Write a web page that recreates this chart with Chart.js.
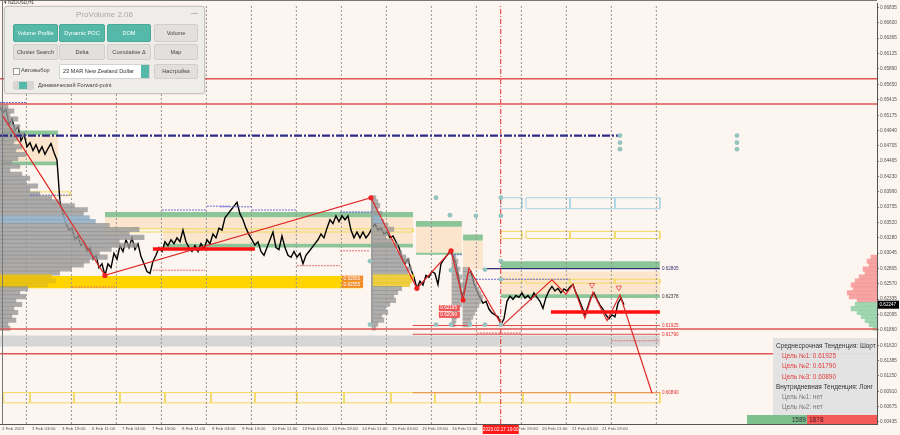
<!DOCTYPE html>
<html>
<head>
<meta charset="utf-8">
<script src="https://cdn.jsdelivr.net/npm/chart.js@4.4.1/dist/chart.umd.min.js"></script>
<style>
  html, body { margin: 0; padding: 0; background: #fdf5ef; }
  body { width: 900px; height: 435px; position: relative; overflow: hidden; font-family: "Liberation Sans", Arial, sans-serif; }
  #c { position: absolute; left: 0; top: 0; }
  .edge-top { position: absolute; left: 0; top: 0; width: 877px; height: 1px; background: #777; }
  .edge-left { position: absolute; left: 2px; top: 0; width: 1px; height: 424px; background: #777; }
  .symbol { position: absolute; left: 4px; top: 0; font-size: 4.5px; color: #333; }

  #panel { position: absolute; left: 4px; top: 6px; width: 199px; height: 86px; background: #efedea; border: 1px solid #c8c5c1; border-radius: 3px; box-shadow: 0 0 2px rgba(0,0,0,.18); }
  #panel .ttl { position: absolute; left: 0; top: 3px; width: 100%; text-align: center; font-size: 8px; color: #aaa7a3; }
  #panel .min { position: absolute; right: 6px; top: 2px; font-size: 7px; color: #8a8a8a; }
  .btn { position: absolute; box-sizing: border-box; border-radius: 2px; background: #e2e0dd; border: 1px solid #d2cfcb; font-size: 5.6px; color: #444; text-align: center; }
  .btn.on { background: #55b8a8; border-color: #4aa898; color: #fff; }
  .r1 { top: 17px; height: 18px; line-height: 16px; }
  .r2 { top: 37px; height: 16px; line-height: 15px; }
  .chk { position: absolute; left: 8px; top: 61px; width: 5px; height: 5px; border: 1px solid #999; background: #fff; }
  .chk-t { position: absolute; left: 16px; top: 60px; font-size: 5.6px; color: #444; }
  .combo { position: absolute; left: 54px; top: 57px; width: 91px; height: 15px; background: #fff; border: 1px solid #d6d3cf; box-sizing: border-box; font-size: 5.6px; line-height: 13px; padding-left: 3px; color: #333; }
  .combo i { position: absolute; right: 0; top: 0; width: 8px; height: 13px; background: #55b8a8; }
  .set { left: 149px; top: 57px; width: 44px; height: 15px; line-height: 13px; }
  .tgl { position: absolute; left: 8px; top: 74px; width: 21px; height: 9px; background: #d8d6d3; border-radius: 2px; }
  .tgl i { position: absolute; left: 6px; top: 1px; width: 8px; height: 7px; background: #55b8a8; }
  .tgl-t { position: absolute; left: 33px; top: 75px; font-size: 5.6px; color: #444; }

  #info { position: absolute; left: 773px; top: 338px; width: 104px; height: 77px; background: rgba(226,226,226,0.96); box-sizing: border-box; padding: 3px 0 0 3px; font-size: 6.4px; line-height: 10.2px; color: #333; }
  #info .t { padding-left: 6px; color: #e23b3b; }
  #info .n { padding-left: 6px; color: #777; }
  #ratio { position: absolute; left: 747px; top: 415px; width: 130px; height: 9px; font-size: 6.4px; line-height: 9px; }
  #ratio .g { position: absolute; left: 0; top: 0; width: 60px; height: 9px; background: #7cc08d; text-align: right; color: #333; box-sizing: border-box; padding-right: 1px; }
  #ratio .r { position: absolute; left: 60px; top: 0; width: 70px; height: 9px; background: #f25a5a; color: #5a1010; box-sizing: border-box; padding-left: 2px; }
</style>
</head>
<body>
<canvas id="c" width="900" height="435"></canvas>
<div class="edge-top"></div>
<div class="edge-left"></div>
<div class="symbol">▾ NZDUSD,H1</div>

<div id="panel">
  <div class="ttl">ProVolume 2.06</div>
  <div class="min">—</div>
  <div class="btn on r1" style="left:8px;width:45px">Volume Profile</div>
  <div class="btn on r1" style="left:54px;width:46px">Dynamic POC</div>
  <div class="btn on r1" style="left:102px;width:44px">DOM</div>
  <div class="btn r1" style="left:149px;width:44px">Volume</div>
  <div class="btn r2" style="left:8px;width:45px">Cluster Search</div>
  <div class="btn r2" style="left:54px;width:46px">Delta</div>
  <div class="btn r2" style="left:102px;width:44px">Cumulative Δ</div>
  <div class="btn r2" style="left:149px;width:44px">Map</div>
  <div class="chk"></div><div class="chk-t">Автовыбор</div>
  <div class="combo">23 MAR New Zealand Dollar<i></i></div>
  <div class="btn set">Настройки</div>
  <div class="tgl"><i></i></div><div class="tgl-t">Динамический Forward-point</div>
</div>

<div id="info">
  <div>Среднесрочная Тенденция: Шорт</div>
  <div class="t">Цель №1: 0.61925</div>
  <div class="t">Цель №2: 0.61790</div>
  <div class="t">Цель №3: 0.60890</div>
  <div>Внутридневная Тенденция: Лонг</div>
  <div class="n">Цель №1: нет</div>
  <div class="n">Цель №2: нет</div>
</div>
<div id="ratio"><div class="g">1589</div><div class="r">1878</div></div>

<script>
// time axis: trading hours counted from 2 Feb 2023 11:00 (weekends skipped)
const timeLabels = ['2 Feb 2023', '3 Feb 03:00', '3 Feb 19:00', '6 Feb 11:00', '7 Feb 03:00', '7 Feb 19:00', '8 Feb 11:00',
    '9 Feb 03:00', '9 Feb 19:00', '10 Feb 11:00', '13 Feb 03:00', '13 Feb 19:00', '14 Feb 11:00', '15 Feb 03:00',
    '15 Feb 19:00', '16 Feb 11:00', '17 Feb 03:00', '17 Feb 19:00', '20 Feb 11:00', '21 Feb 03:00', '21 Feb 19:00'];
const timeTicks = [0, 16, 32, 48, 64, 80, 96, 112, 128, 144, 160, 176, 192, 208, 224, 240, 256, 272, 288, 304, 320];
const dayStarts = [13, 37, 61, 85, 109, 133, 157, 181, 205, 229, 253, 277, 301, 325, 349];
const xMin = -1.07;
const xMax = 466.7;

// price axis
const priceTicks = [0.66835, 0.66600, 0.66365, 0.66125, 0.65890, 0.65650, 0.65415, 0.65175, 0.64940, 0.64705,
    0.64465, 0.64230, 0.63990, 0.63755, 0.63520, 0.63280, 0.63045, 0.62805, 0.62570, 0.62335, 0.62095, 0.61860,
    0.61620, 0.61385, 0.61150, 0.60910, 0.60675, 0.60435];
const yMin = 0.60404;
const yMax = 0.66896;

// closes, one every 1.6 h
const closeStartHour = -1.07;
const closeStepHours = 1.6;
const closes = [
    0.6530, 0.6521, 0.6527, 0.6503, 0.6512, 0.6494, 0.6500, 0.6478, 0.6488, 0.6469,
    0.6475, 0.6463, 0.6472, 0.6460, 0.6469, 0.6457, 0.6466, 0.6474, 0.6460, 0.6448,
    0.6383, 0.6365, 0.6350, 0.6340, 0.6343, 0.6325, 0.6331, 0.6316, 0.6322, 0.6307,
    0.6313, 0.6295, 0.6301, 0.6282, 0.6288, 0.6270, 0.6288, 0.6282, 0.6304, 0.6295,
    0.6316, 0.6307, 0.6325, 0.6313, 0.6328, 0.6310, 0.6319, 0.6299, 0.6288, 0.6276,
    0.6273, 0.6292, 0.6301, 0.6313, 0.6307, 0.6322, 0.6316, 0.6325, 0.6319, 0.6328,
    0.6322, 0.6340, 0.6322, 0.6313, 0.6307, 0.6316, 0.6307, 0.6319, 0.6311, 0.6325,
    0.6319, 0.6334, 0.6328, 0.6343, 0.6340, 0.6359, 0.6365, 0.6371, 0.6377, 0.6383,
    0.6365, 0.6356, 0.6343, 0.6333, 0.6325, 0.6317, 0.6322, 0.6307, 0.6301, 0.6313,
    0.6325, 0.6337, 0.6313, 0.6310, 0.6331, 0.6313, 0.6301, 0.6298, 0.6307, 0.6298,
    0.6304, 0.6288, 0.6301, 0.6307, 0.6313, 0.6319, 0.6325, 0.6334, 0.6328, 0.6343,
    0.6356, 0.6350, 0.6362, 0.6353, 0.6362, 0.6356, 0.6362, 0.6340, 0.6328, 0.6337,
    0.6328, 0.6337, 0.6328, 0.6334, 0.6343, 0.6350, 0.6340, 0.6343, 0.6334, 0.6337,
    0.6328, 0.6331, 0.6322, 0.6313, 0.6298, 0.6288, 0.6295, 0.6279, 0.6267, 0.6250,
    0.6261, 0.6255, 0.6270, 0.6267, 0.6276, 0.6273, 0.6256, 0.6288, 0.6295, 0.6301,
    0.6307, 0.6301, 0.6288, 0.6264, 0.6236, 0.6252, 0.6273, 0.6276, 0.6258, 0.6246,
    0.6236, 0.6227, 0.6230, 0.6218, 0.6212, 0.6209, 0.6206, 0.6194, 0.6203, 0.6230,
    0.6238, 0.6233, 0.6239, 0.6236, 0.6243, 0.6235, 0.6239, 0.6233, 0.6243, 0.6236,
    0.6230, 0.6219, 0.6236, 0.6246, 0.6253, 0.6246, 0.6250, 0.6243, 0.6249, 0.6246,
    0.6252, 0.6256, 0.6243, 0.6233, 0.6221, 0.6209, 0.6222, 0.6236, 0.6243, 0.6233,
    0.6224, 0.6218, 0.6209, 0.6203, 0.6209, 0.6206, 0.6227, 0.6235, 0.62247
];

// zigzag swings
const zigzagHours = [0, 54.9, 196.8, 221.3, 239.5, 245.9, 249.1, 266.7, 293.3, 300.8, 304.5, 310.9, 315.2, 322.7, 329.6, 346.7];
const zigzagPrices = [0.6518, 0.6270, 0.6390, 0.6250, 0.6308, 0.6232, 0.6281, 0.6192, 0.6263, 0.6241, 0.6256, 0.6204, 0.6244, 0.6200, 0.6240, 0.6088];
const swingDotHours = [54.9, 196.8, 221.3, 239.5, 245.9];
const swingDotPrices = [0.6270, 0.6390, 0.6250, 0.6308, 0.6232];
const signalHours = [314.7, 329.0];
const signalPrices = [0.6255, 0.6251];

// forward points
const fwdHours = [231.5, 238.9, 252.8, 266.1, 266.1, 266.1, 257.6, 239.5, 266.1, 196.3, 196.3, 231.5, 239.5, 249.6, 257.6, 266.1, 329.6, 329.6, 329.6, 392, 392, 392];
const fwdPrices = [0.6390, 0.6363, 0.6362, 0.6362, 0.6390, 0.6292, 0.6279, 0.6278, 0.6264, 0.6292, 0.6194, 0.6194, 0.6194, 0.6194, 0.6194, 0.6194, 0.6486, 0.6475, 0.6465, 0.6486, 0.6475, 0.6465];

// levels
const fullWidthLevels = [0.6574, 0.6535, 0.6187, 0.6149];
const trendLevel = 0.6486;
const trendLevelEnd = 329.6;
const targetLevels = [0.61925, 0.61790];
const target3Level = 0.60890;
const targetFrom = 219;
const zoneEndHour = 350.9;
const navyLevel = 0.62805;
const navyFrom = 256.5;
// [fromHour, toHour, price]
const thickRedLevels = [[80.5, 134.9, 0.63107], [292.8, 350.9, 0.62135]];
const blueDashLevels = [[-1.07, 13.3, 0.6537], [14.9, 36.3, 0.6394], [85.3, 109.3, 0.6371], [109.3, 121.6, 0.6377],
    [116.3, 133.3, 0.6376], [133.3, 157.3, 0.6371], [180.3, 197.3, 0.6368], [239.5, 245.3, 0.6302], [252.8, 302.9, 0.6264]];
const redDashLevels = [[80.5, 108.3, 0.6278], [157.3, 180.3, 0.6285], [180.3, 196.3, 0.6308], [37.3, 60.3, 0.6252],
    [325, 350.9, 0.6169], [253.3, 277.3, 0.6181]];

// zones: [fromHour, toHour, upper, lower]
const greenZones = [[0, 29.9, 0.6494, 0.6487], [0, 29.9, 0.6446, 0.6440], [54.9, 219.2, 0.6368, 0.6360],
    [85.9, 219.2, 0.6319, 0.6313], [220.8, 245.3, 0.6354, 0.6345], [220.8, 245.3, 0.6305, 0.6302],
    [245.9, 256.5, 0.6333, 0.6324], [266.1, 350.9, 0.6292, 0.6281], [266.1, 350.9, 0.6241, 0.6235]];
const sandZones = [[0, 29.9, 0.6486, 0.6446], [54.9, 85.9, 0.6360, 0.6342], [85.9, 219.2, 0.6360, 0.6319],
    [220.8, 245.3, 0.6345, 0.6305], [245.9, 256.5, 0.6324, 0.6279], [266.1, 350.9, 0.6276, 0.6241]];
const goldZones = [[-1.07, 192, 0.6269, 0.6250]];
const grayZones = [[-1.07, 350.9, 0.6177, 0.6160]];
const blueBoxes = [[266.1, 277.3, 0.6390, 0.6373], [279.5, 302.9, 0.6390, 0.6373], [302.9, 326.9, 0.6390, 0.6373], [326.9, 350.9, 0.6390, 0.6373]];
const yellowBoxes = [[266.1, 277.3, 0.6338, 0.6327], [279.5, 302.9, 0.6338, 0.6327], [302.9, 326.9, 0.6338, 0.6327], [326.9, 350.9, 0.6338, 0.6327],
    [266.1, 277.3, 0.6264, 0.6258], [279.5, 302.9, 0.6264, 0.6258], [302.9, 326.9, 0.6264, 0.6258], [326.9, 350.9, 0.6264, 0.6258],
    [0.5, 36.3, 0.6399, 0.6393], [54.9, 219.2, 0.6342, 0.6337]];
const dailyBoxEdges = [0.9, 14.9, 38.4, 62.9, 86.9, 111.5, 134.9, 157.3, 182.4, 207.5, 230.9, 254.9, 277.9, 302.9, 326.9, 350.9];
const dailyBoxUpper = 0.6089;
const dailyBoxLower = 0.6073;

// volume profiles (volume per price bin)
const profileBinStep = 0.00061;
const profileHoursPerLot = 0.53;
const leftProfileTop = 0.6530;
const leftProfileVolumes = [8, 14, 10, 18, 12, 20, 16, 24, 18, 14, 22, 16, 26, 18, 12, 20, 10, 22, 30, 26,
    38, 30, 40, 52, 60, 75, 88, 84, 90, 96, 110, 140, 130, 145, 120, 138, 112, 100, 108, 90,
    84, 72, 60, 52, 56, 48, 28, 20, 26, 16, 22, 14, 18, 12, 16, 8, 10];
const midProfileStart = 197.3;
const midProfileTop = 0.6390;
const midProfileVolumes = [4, 6, 8, 6, 10, 8, 12, 16, 22, 18, 14, 20, 26, 24, 30, 34, 38, 32, 40, 36,
    42, 40, 38, 30, 26, 22, 24, 18, 14, 16, 10, 12, 6, 4];
const smallProfileStart = 240;
const smallProfileTop = 0.6298;
const smallProfileVolumes = [4, 6, 5, 8, 6, 10, 8, 12, 10, 9, 12, 8, 10, 7, 6, 5, 4, 3];
const thirdProfileStart = 245.9;
const thirdProfileTop = 0.6279;
const thirdProfileVolumes = [6, 8, 10, 12, 14, 16, 18, 20, 18, 16, 14, 12, 10, 8, 6];
const domProfileTop = 0.6298;
const domSplitPrice = 0.6230;
const domVolumes = [6, 10, 8, 14, 12, 18, 22, 26, 24, 30, 28, 20, 22, 26, 20, 16, 12, 8, 4];

// tags
const levelTagPrices = [0.62805, 0.62378, 0.61925, 0.61790, 0.60890];
const volumeTagHour = 181.4;
const volumeTagPrices = [0.62650, 0.62555];
const deltaTagHour = 233;
const deltaTagPrices = [0.62195, 0.62090];
const crossHour = 266;
const crossLabel = '2023.02.17 10:00';

const FONT = '"Liberation Sans", Arial, sans-serif';
const datasets = [];

function segments(list) {
    const pts = [];
    list.forEach(s => pts.push({x: s[0], y: s[2]}, {x: s[1], y: s[2]}, {x: s[1], y: null}));
    return pts;
}
function boxPath(list) {
    const pts = [];
    list.forEach(b => pts.push({x: b[0], y: b[2]}, {x: b[1], y: b[2]}, {x: b[1], y: b[3]},
        {x: b[0], y: b[3]}, {x: b[0], y: b[2]}, {x: b[0], y: null}));
    return pts;
}
function addLine(data, style, order) {
    datasets.push(Object.assign({type: 'line', data: data, pointRadius: 0, borderWidth: 1, fill: false,
        tension: 0, spanGaps: false, order: order}, style));
}
function addZones(list, color, order) {
    list.forEach(z => datasets.push({type: 'line', data: [{x: z[0], y: z[2]}, {x: z[1], y: z[2]}],
        fill: {value: z[3]}, backgroundColor: color, borderColor: 'rgba(0,0,0,0)', borderWidth: 0,
        pointRadius: 0, order: order}));
}
function addProfile(start, top, vols, growLeft, color, order) {
    const data = vols.map((v, i) => {
        const w = v * profileHoursPerLot;
        return {y: top - i * profileBinStep, x: growLeft ? [start - w, start] : [start, start + w]};
    });
    datasets.push({type: 'bar', indexAxis: 'y', data: data, grouped: false, barThickness: 4.4,
        borderWidth: 0, backgroundColor: color, order: order});
}

// zones
addZones(sandZones, '#fbe6cd', 20);
addZones(greenZones, '#8cc598', 19);
addZones(goldZones, '#ffd400', 18);
addZones(grayZones, '#d6d6d6', 18);
addLine(boxPath(blueBoxes), {borderColor: '#a9d3e6'}, 17);
addLine(boxPath(yellowBoxes), {borderColor: '#f2d964'}, 17);
const dailyBoxes = [];
for (let i = 0; i < dailyBoxEdges.length - 1; i++) {
    dailyBoxes.push([dailyBoxEdges[i], dailyBoxEdges[i + 1], dailyBoxUpper, dailyBoxLower]);
}
addLine(boxPath(dailyBoxes), {borderColor: '#f2d964'}, 17);

// day separators
const dayData = [];
dayStarts.forEach(d => dayData.push({x: d, y: yMin}, {x: d, y: yMax}, {x: d, y: null}));
addLine(dayData, {borderColor: '#949494', borderDash: [2, 2]}, 12);

// price
addLine(closes.map((c, i) => ({x: closeStartHour + i * closeStepHours, y: c})),
    {borderColor: '#000', borderWidth: 1.4}, 11);

// volume profiles over the price
const binColor = (gold, other) => ctx => {
    const p = ctx.raw ? ctx.raw.y : 0;
    if (p <= goldZones[0][2] && p >= goldZones[0][3]) return gold;
    if (p <= 0.6362 && p >= 0.6353) return 'rgba(140,170,195,0.85)';
    return other;
};
addProfile(xMin, leftProfileTop, leftProfileVolumes, false, binColor('rgba(230,190,20,0.85)', 'rgba(150,150,150,0.78)'), 9);
addProfile(midProfileStart, midProfileTop, midProfileVolumes, false, binColor('rgba(235,200,40,0.85)', 'rgba(150,150,150,0.75)'), 9);
addProfile(smallProfileStart, smallProfileTop, smallProfileVolumes, false, 'rgba(150,150,150,0.7)', 9);
addProfile(thirdProfileStart, thirdProfileTop, thirdProfileVolumes, false, 'rgba(150,150,150,0.7)', 9);
addProfile(xMax, domProfileTop, domVolumes, true,
    ctx => (ctx.raw && ctx.raw.y > domSplitPrice) ? 'rgba(244,150,150,0.85)' : 'rgba(150,210,170,0.9)', 9);
addLine([{x: midProfileStart, y: midProfileTop}, {x: midProfileStart, y: 0.6194}], {borderColor: '#9a9a9a'}, 8);

// levels
addLine(segments([[-1.07, trendLevelEnd, trendLevel]]), {borderColor: '#2e2e8a', borderWidth: 2.4, borderDash: [8, 2, 2, 2]}, 7);
addLine(segments(blueDashLevels), {borderColor: '#6b6bd6', borderDash: [2, 1]}, 7);
addLine(segments(redDashLevels), {borderColor: '#e07070', borderDash: [2, 1]}, 7);
addLine(segments([[navyFrom, zoneEndHour, navyLevel]]), {borderColor: '#303078', borderWidth: 1.2}, 7);
addLine(segments(fullWidthLevels.map(l => [xMin, xMax, l])), {borderColor: '#e05555', borderWidth: 1.5}, 6);
addLine(segments(targetLevels.map(l => [targetFrom, zoneEndHour, l])), {borderColor: '#e04848', borderWidth: 1.1}, 6);
addLine(segments([[targetFrom, zoneEndHour, target3Level]]), {borderColor: '#ee9a55', borderWidth: 1.2}, 6);
addLine(segments(thickRedLevels), {borderColor: '#ff1010', borderWidth: 3.5}, 6);
addLine([{x: crossHour, y: yMin}, {x: crossHour, y: yMax}], {borderColor: '#e03030', borderDash: [5, 2, 1, 2]}, 6);

// zigzag and markers
addLine(zigzagHours.map((h, i) => ({x: h, y: zigzagPrices[i]})), {borderColor: '#e02828', borderWidth: 1.2}, 4);
addLine(swingDotHours.map((h, i) => ({x: h, y: swingDotPrices[i]})),
    {showLine: false, pointRadius: 2.6, pointBackgroundColor: '#ee2222', pointBorderWidth: 0}, 3);
addLine(fwdHours.map((h, i) => ({x: h, y: fwdPrices[i]})),
    {showLine: false, pointRadius: 2.4, pointBackgroundColor: '#94c4bf', pointBorderWidth: 0}, 3);
addLine(signalHours.map((h, i) => ({x: h, y: signalPrices[i]})),
    {showLine: false, pointRadius: 3.2, pointStyle: 'triangle', rotation: 180, pointBackgroundColor: 'rgba(0,0,0,0)',
     pointBorderColor: '#e86060', pointBorderWidth: 1}, 3);

// text tags drawn on the scales
const tagPlugin = {
    id: 'tags',
    afterDraw(chart) {
        const {ctx, chartArea} = chart;
        const x = chart.scales.x, y = chart.scales.y;
        ctx.save();
        ctx.textBaseline = 'middle';
        ctx.font = '4.6px ' + FONT;
        const tagColors = ['#303078', '#333', '#e03030', '#e03030', '#e03030'];
        levelTagPrices.forEach((p, i) => {
            ctx.fillStyle = tagColors[i];
            ctx.fillText(p.toFixed(5), x.getPixelForValue(zoneEndHour) + 2, y.getPixelForValue(p));
        });
        // volume and delta tags
        const tag = (h, p, bg) => {
            const px = x.getPixelForValue(h), py = y.getPixelForValue(p);
            ctx.fillStyle = bg;
            ctx.fillRect(px, py - 3, 21, 6);
            ctx.fillStyle = '#fff';
            ctx.fillText(p.toFixed(5), px + 1.5, py);
        };
        volumeTagPrices.forEach(p => tag(volumeTagHour, p, '#f08a2c'));
        deltaTagPrices.forEach(p => tag(deltaTagHour, p, '#ee5a5a'));
        // current price on the axis
        const last = closes[closes.length - 1];
        const ly = y.getPixelForValue(last);
        ctx.fillStyle = '#000';
        ctx.fillRect(chartArea.right + 1, ly - 4, 21, 8);
        ctx.fillStyle = '#fff';
        ctx.fillText(last.toFixed(5), chartArea.right + 2.5, ly);
        // crosshair time
        const cx = x.getPixelForValue(crossHour);
        ctx.fillStyle = '#ff1a1a';
        ctx.fillRect(cx - 18, chartArea.bottom + 1, 36, 9);
        ctx.fillStyle = '#fff';
        ctx.textAlign = 'center';
        ctx.fillText(crossLabel, cx, chartArea.bottom + 5.5);
        ctx.restore();
    }
};

new Chart(document.getElementById('c'), {
    type: 'line',
    data: {datasets: datasets},
    options: {
        responsive: false,
        devicePixelRatio: 1,
        animation: false,
        events: [],
        layout: {padding: 0, autoPadding: false},
        plugins: {legend: {display: false}, tooltip: {enabled: false}},
        scales: {
            x: {
                type: 'linear', position: 'bottom', min: xMin, max: xMax, offset: false,
                afterBuildTicks: s => { s.ticks = timeTicks.map(v => ({value: v})); },
                afterFit: s => { s.height = 11; },
                ticks: {callback: (v, i) => timeLabels[i], align: 'start', maxRotation: 0, minRotation: 0,
                    autoSkip: false, font: {size: 4.4, family: FONT}, color: '#555', padding: 2},
                grid: {display: false, drawTicks: false},
                border: {display: true, color: '#555'}
            },
            y: {
                type: 'linear', position: 'right', min: yMin, max: yMax, offset: false,
                afterBuildTicks: s => { s.ticks = priceTicks.map(v => ({value: v})); },
                afterFit: s => { s.width = 23; },
                ticks: {callback: v => v.toFixed(5), autoSkip: false, font: {size: 4.7, family: FONT},
                    color: '#555', padding: 1},
                grid: {display: true, drawOnChartArea: false, drawTicks: true, tickLength: 2, color: '#777', offset: false},
                border: {display: true, color: '#555'}
            }
        }
    },
    plugins: [tagPlugin]
});
</script>
</body>
</html>
